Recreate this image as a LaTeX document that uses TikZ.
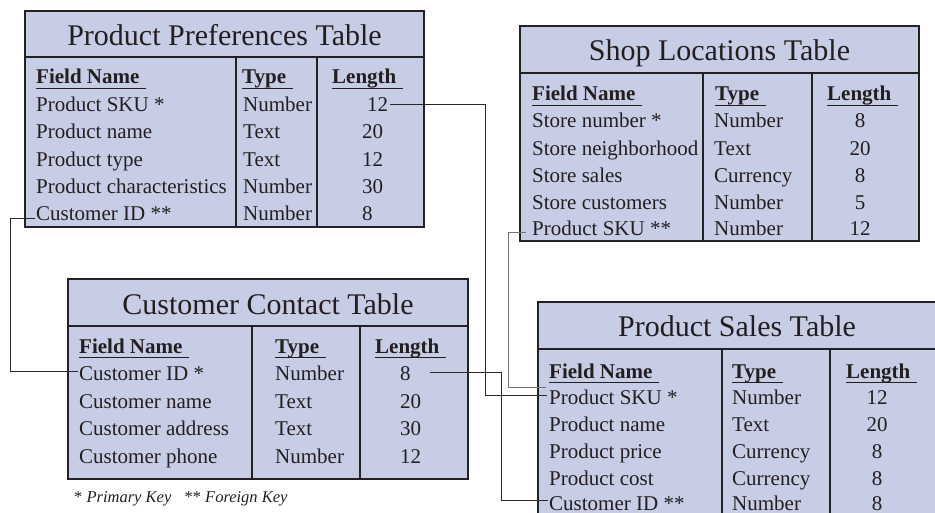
\documentclass[tikz,border=0pt]{standalone}
\usepackage{fontspec}
\setmainfont{Liberation Serif}

\definecolor{tabfill}{RGB}{200,205,230}
\definecolor{tabline}{RGB}{35,33,38}
\definecolor{ink}{RGB}{35,31,32}
\definecolor{linkdark}{RGB}{40,40,40}
\definecolor{linkgray}{RGB}{115,115,115}

\newcommand\bodyfont{\fontsize{21}{25}\selectfont}
\newcommand\titlefont{\fontsize{30}{34}\selectfont}
\newsavebox\hdbox
% bold column heading with an underline running a little past the word
\newcommand\colhead[1]{\sbox\hdbox{\bfseries #1\kern7pt}\rlap{\bfseries #1}\rule[-5pt]{\wd\hdbox}{1.4pt}}

\begin{document}
\begin{tikzpicture}[x=1pt,y=-1pt,
  tbl/.style={fill=tabfill, draw=tabline, line width=1.6pt},
  divider/.style={draw=tabline, line width=1.6pt},
  cell/.style={anchor=base west, inner sep=0pt, text height=14pt, text depth=0pt, font=\bodyfont, text=ink},
  numc/.style={cell, anchor=base},
  ttl/.style={anchor=base, inner sep=0pt, font=\titlefont, text=ink},
  link/.style={draw=linkdark, line width=0.9pt},
  linklight/.style={draw=linkgray, line width=0.9pt},
  note/.style={anchor=base west, inner sep=0pt, font=\fontsize{16.5}{18}\selectfont, text=ink}]

\useasboundingbox (0,0) rectangle (935,513);
\clip (0,0) rectangle (935,513);

% ---------- Product Preferences Table ----------
\draw[tbl] (25,11) rectangle (424,227);
\draw[divider] (25,57) -- (424,57) (236,57) -- (236,227) (317,57) -- (317,227);
\node[ttl] (pp-title) at (224.5,46) {Product Preferences Table};
\node[cell] (pp-hf) at (36,84) {\colhead{Field Name}};
\node[cell] (pp-ht) at (242,84) {\colhead{Type}};
\node[cell] (pp-hl) at (332,84) {\colhead{Length}};
\foreach \k/\y/\f/\t/\lx/\l in {1/111.4/Product SKU */Number/367/12,
    2/138.8/Product name/Text/362/20, 3/166.2/Product type/Text/362/12,
    4/193.6/Product characteristics/Number/362/30, 5/221/Customer ID **/Number/362/8} {
  \node[cell] (pp-f\k) at (36,\y) {\f};
  \node[cell] (pp-t\k) at (243,\y) {\t};
  \node[cell] (pp-l\k) at (\lx,\y) {\l};
}

% ---------- Shop Locations Table ----------
\draw[tbl] (520,26) rectangle (919,241);
\draw[divider] (520,73) -- (919,73) (703,73) -- (703,241) (812,73) -- (812,241);
\node[ttl] (sl-title) at (719.5,61) {Shop Locations Table};
\node[cell] (sl-hf) at (532,101) {\colhead{Field Name}};
\node[cell] (sl-ht) at (715,101) {\colhead{Type}};
\node[cell] (sl-hl) at (827,101) {\colhead{Length}};
\foreach \k/\y/\f/\t/\l in {1/128/Store number */Number/8,
    2/156/Store neighborhood/Text/20, 3/183/Store sales/Currency/8,
    4/210/Store customers/Number/5, 5/236/Product SKU **/Number/12} {
  \node[cell] (sl-f\k) at (532,\y) {\f};
  \node[cell] (sl-t\k) at (714,\y) {\t};
  \node[numc] (sl-l\k) at (860,\y) {\l};
}

% ---------- Customer Contact Table ----------
\draw[tbl] (68,279) rectangle (468,479);
\draw[divider] (68,326) -- (468,326) (252,326) -- (252,479) (360,326) -- (360,479);
\node[ttl] (cc-title) at (268,314) {Customer Contact Table};
\node[cell] (cc-hf) at (79,353) {\colhead{Field Name}};
\node[cell] (cc-ht) at (275,353) {\colhead{Type}};
\node[cell] (cc-hl) at (375,353) {\colhead{Length}};
\foreach \k/\y/\f/\t/\l in {1/380.5/Customer ID */Number/8,
    2/408/Customer name/Text/20, 3/435.5/Customer address/Text/30,
    4/463/Customer phone/Number/12} {
  \node[cell] (cc-f\k) at (79,\y) {\f};
  \node[cell] (cc-t\k) at (275,\y) {\t};
  \node[cell] (cc-l\k) at (400,\y) {\l};
}
\node[note] (keys) at (74,502) {* \textit{Primary Key}\hspace{0.8em}** \textit{Foreign Key}};

% ---------- Product Sales Table ----------
\draw[tbl] (538,302) rectangle (937,540);
\draw[divider] (538,349) -- (937,349) (722,349) -- (722,540) (830,349) -- (830,540);
\node[ttl] (ps-title) at (737,337) {Product Sales Table};
\node[cell] (ps-hf) at (549,378) {\colhead{Field Name}};
\node[cell] (ps-ht) at (732,378) {\colhead{Type}};
\node[cell] (ps-hl) at (846,378) {\colhead{Length}};
\foreach \k/\y/\f/\t/\l in {1/404/Product SKU */Number/12,
    2/431/Product name/Text/20, 3/458/Product price/Currency/8,
    4/485/Product cost/Currency/8, 5/510/Customer ID **/Number/8} {
  \node[cell] (ps-f\k) at (549,\y) {\f};
  \node[cell] (ps-t\k) at (732,\y) {\t};
  \node[numc] (ps-l\k) at (877,\y) {\l};
}

% ---------- key links ----------
\coordinate (busA) at (485,0);
\coordinate (busB) at (508,0);
\coordinate (busC) at (501,0);
\coordinate (busD) at (10,0);

% link end points, just beside the field texts
\coordinate (ppSkuOut)  at ([xshift=2pt]pp-l1.east);
\coordinate (psSkuInA)  at ([xshift=-2pt,yshift=2pt]ps-f1.west);
\coordinate (slSkuOut)  at ([xshift=-6pt,yshift=-3pt]sl-f5.west);
\coordinate (psSkuInB)  at ([xshift=-3pt,yshift=10pt]ps-f1.west);
\coordinate (ccIdOut)   at ([xshift=19pt,yshift=1pt]cc-l1.east);
\coordinate (psIdIn)    at ([xshift=-1pt,yshift=3pt]ps-f5.west);
\coordinate (ppIdOut)   at ([xshift=-1pt,yshift=-4pt]pp-f5.west);
\coordinate (ccIdIn)    at ([xshift=-1pt,yshift=2pt]cc-f1.west);

% Product SKU: preferences -> sales
\draw[link] (ppSkuOut) -| (busA |- psSkuInA) -- (psSkuInA);
% Product SKU: shop locations -> sales
\draw[linklight] (slSkuOut) -| (busB |- psSkuInB) -- (psSkuInB);
% Customer ID: contact -> sales
\draw[link] (ccIdOut) -| (busC |- psIdIn) -- (psIdIn);
% Customer ID: preferences -> contact
\draw[link] (ppIdOut) -| (busD |- ccIdIn) -- (ccIdIn);

\end{tikzpicture}
\end{document}
